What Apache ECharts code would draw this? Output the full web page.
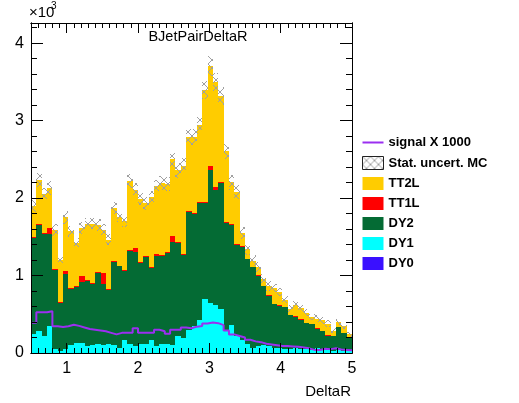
<!DOCTYPE html>
<html>
<head>
<meta charset="utf-8">
<script src="https://cdn.jsdelivr.net/npm/echarts@6/dist/echarts.min.js"></script>
<style>
html, body { margin: 0; padding: 0; background: #fff; }
#chart { width: 519px; height: 403px; }
</style>
</head>
<body>
<div id="chart"></div>
<script>
// binning of the DeltaR histogram
var binLow = 0.5;
var binWidth = 0.075;
var xTickValues = [1, 2, 3, 4, 5];

// stacked backgrounds, bottom to top
var dy0 = [0, 0, 0, 0, 0, 0, 0, 0, 0, 0,
    0, 0, 0, 0, 0, 0, 0, 0, 0, 0,
    0, 0, 0, 0, 0, 0, 0, 0, 0, 2,
    3, 3, 5, 5, 4, 3, 2, 2, 0, 0,
    0, 0, 0, 0, 0, 0, 0, 0, 0, 0,
    0, 0, 0, 0, 0, 0, 0, 0, 0, 0];
var dy1 = [250, 290, 215, 350, 50, 30, 50, 100, 130, 130,
    90, 100, 110, 100, 110, 100, 70, 170, 110, 90,
    120, 110, 170, 90, 110, 110, 100, 220, 200, 300,
    350, 420, 690, 640, 610, 560, 280, 365, 215, 170,
    110, 65, 85, 105, 85, 65, 70, 55, 50, 60,
    55, 50, 45, 60, 40, 35, 30, 40, 30, 25];
var dy2 = [1232, 1363, 1322, 1187, 1023, 615, 968, 730, 720, 790,
    840, 790, 925, 785, 700, 1081, 1047, 890, 1210, 1220,
    1040, 1135, 925, 1160, 1140, 1180, 1330, 1198, 1067, 1515,
    1440, 1513, 1243, 1722, 1495, 1631, 1395, 1289, 1181, 1204,
    1100, 1040, 915, 755, 655, 565, 540, 540, 440, 410,
    375, 337, 325, 255, 240, 190, 185, 290, 230, 168];
var tt1l = [10, 10, 10, 80, 10, 10, 42, 10, 10, 70,
    10, 10, 10, 154, 10, 10, 10, 10, 10, 45,
    10, 10, 10, 30, 10, 10, 85, 10, 10, 10,
    10, 10, 10, 43, 30, 10, 10, 10, 10, 8,
    8, 6, 6, 6, 5, 5, 5, 4, 4, 4,
    4, 3, 3, 3, 3, 3, 2, 2, 2, 2];
var tt2l = [408, 567, 503, 513, 507, 545, 690, 730, 560, 620,
    730, 770, 610, 551, 640, 679, 633, 630, 890, 755,
    820, 675, 905, 870, 940, 880, 985, 932, 1143, 965,
    990, 997, 1447, 1295, 1355, 1109, 915, 536, 674, 168,
    122, 79, 99, 94, 120, 205, 175, 91, 76, 146,
    146, 130, 92, 127, 137, 152, 73, 68, 83, 45];
// MC statistical uncertainty per bin
var statErr = [80, 90, 85, 85, 75, 65, 80, 75, 70, 75,
    75, 75, 75, 75, 70, 80, 75, 75, 90, 85,
    85, 80, 85, 85, 90, 90, 95, 95, 95, 105,
    105, 110, 115, 125, 115, 115, 100, 95, 90, 80,
    75, 70, 65, 60, 60, 55, 55, 50, 45, 50,
    45, 45, 40, 40, 40, 40, 35, 40, 35, 30];
// signal scaled x1000
var signalX1000 = [390, 525, 525, 540, 345, 335, 345, 365, 350, 330,
    310, 300, 290, 280, 260, 240, 260, 260, 260, 320,
    260, 260, 260, 300, 280, 250, 300, 300, 330, 320,
    340, 350, 380, 395, 385, 360, 290, 240, 220, 200,
    170, 150, 140, 120, 110, 100, 90, 90, 85, 80,
    70, 60, 40, 40, 55, 50, 60, 45, 40, 35];

var nBins = dy1.length;
var FONT = 'Liberation Sans';
var YMAX = 4260;
var SIGNAL_COLOR = '#9b2ff0';

// cross hatch like the ROOT fill style
var hatch = document.createElement('canvas');
hatch.width = 8;
hatch.height = 8;
var hctx = hatch.getContext('2d');
hctx.strokeStyle = '#a0a0a0';
hctx.lineWidth = 1;
hctx.beginPath();
hctx.moveTo(0, 0); hctx.lineTo(8, 8);
hctx.moveTo(8, 0); hctx.lineTo(0, 8);
hctx.stroke();
var hatchFill = { image: hatch, repeat: 'repeat' };

// build [edgeLo, edgeHi, bottom, top] rows for every stacked component
var components = [
    { name: 'DY0', data: dy0, color: '#3a10ff' },
    { name: 'DY1', data: dy1, color: '#00ffff' },
    { name: 'DY2', data: dy2, color: '#046b34' },
    { name: 'TT1L', data: tt1l, color: '#ff0000' },
    { name: 'TT2L', data: tt2l, color: '#ffcc00' }
];
var running = [];
for (var i = 0; i < nBins; i++) running.push(0);
components.forEach(function (c) {
    c.rows = [];
    for (var i = 0; i < nBins; i++) {
        var lo = running[i];
        running[i] += c.data[i];
        c.rows.push([binLow + i * binWidth, binLow + (i + 1) * binWidth, lo, running[i]]);
    }
});
var uncRows = [];
for (var i = 0; i < nBins; i++) {
    uncRows.push([binLow + i * binWidth, binLow + (i + 1) * binWidth,
        running[i] - statErr[i], running[i] + statErr[i]]);
}
// step line through the bin edges
var signalPts = [];
for (var i = 0; i < nBins; i++) {
    signalPts.push([binLow + i * binWidth, signalX1000[i]]);
}
signalPts.push([binLow + nBins * binWidth, signalX1000[nBins - 1]]);

function histSeries(name, rows, fill, z) {
    return {
        name: name, type: 'custom', xAxisIndex: 1, yAxisIndex: 0, z: z,
        data: rows, encode: { x: [0, 1], y: [2, 3] },
        itemStyle: { color: fill },
        silent: true,
        renderItem: function (params, api) {
            var p0 = api.coord([api.value(0), api.value(2)]);
            var p1 = api.coord([api.value(1), api.value(3)]);
            var x0 = Math.round(p0[0]), x1 = Math.round(p1[0]);
            var yb = Math.round(p0[1]), yt = Math.round(p1[1]);
            if (yb - yt <= 0) return null;
            return {
                type: 'rect',
                shape: { x: x0, y: yt, width: x1 - x0, height: yb - yt },
                style: { fill: fill }
            };
        }
    };
}

function xValueAxis(pos, interval, tickLen, labels) {
    var ax = {
        type: 'value', position: pos, min: binLow, max: 5, z: 10,
        splitLine: { show: false },
        axisLine: { show: true, onZero: false, lineStyle: { color: '#000', width: 1 } },
        axisTick: { inside: true, length: tickLen, lineStyle: { color: '#000' } },
        axisLabel: { show: false }
    };
    if (interval) {
        ax.interval = interval;
    } else {
        ax.axisTick.customValues = xTickValues;
        ax.axisLabel = {
            show: labels, customValues: xTickValues, margin: 8,
            color: '#000', fontSize: 16, fontFamily: FONT
        };
    }
    return ax;
}

function yAxisDef(pos, interval, tickLen, labels) {
    return {
        type: 'value', position: pos, min: 0, max: YMAX, interval: interval, z: 10,
        splitLine: { show: false },
        axisLine: { show: true, lineStyle: { color: '#000', width: 1 } },
        axisTick: { inside: true, length: tickLen, lineStyle: { color: '#000' } },
        axisLabel: {
            show: labels, margin: 7, color: '#000', fontSize: 16, fontFamily: FONT,
            formatter: function (v) { return v % 1000 === 0 ? String(v / 1000) : ''; }
        }
    };
}

var chart = echarts.init(document.getElementById('chart'), null, { renderer: 'canvas' });

var series = components.map(function (c) {
    return histSeries(c.name, c.rows, c.color, 2);
});
series.push(histSeries('Stat. uncert. MC', uncRows, hatchFill, 3));
series.push({
    name: 'signal X 1000', type: 'line', xAxisIndex: 1, yAxisIndex: 0,
    data: signalPts, step: 'end', symbol: 'none', showSymbol: false, z: 5,
    itemStyle: { color: SIGNAL_COLOR },
    lineStyle: { color: SIGNAL_COLOR, width: 2 }
});

var option = {
    animation: false,
    backgroundColor: '#fff',
    grid: { left: 31, right: 167, top: 23, bottom: 50 },
    xAxis: [
        { type: 'category', data: xTickValues, show: false },
        xValueAxis('bottom', 0.1, 5, false),
        xValueAxis('bottom', null, 10, true),
        xValueAxis('top', 0.1, 5, false),
        xValueAxis('top', null, 10, false)
    ],
    yAxis: [
        yAxisDef('left', 1000, 12, true),
        yAxisDef('left', 200, 6, false),
        yAxisDef('right', 1000, 12, false),
        yAxisDef('right', 200, 6, false)
    ],
    legend: {
        left: 362, top: 136, orient: 'vertical',
        itemWidth: 21, itemHeight: 13, itemGap: 7, padding: 0,
        selectedMode: false,
        textStyle: { color: '#000', fontSize: 13, fontWeight: 'bold', fontFamily: FONT },
        data: [
            { name: 'signal X 1000', icon: 'path://M0,0 L21,0 L21,2 L0,2 Z' },
            { name: 'Stat. uncert. MC', icon: 'rect', itemStyle: { borderColor: '#222', borderWidth: 1 } },
            { name: 'TT2L', icon: 'rect' },
            { name: 'TT1L', icon: 'rect' },
            { name: 'DY2', icon: 'rect' },
            { name: 'DY1', icon: 'rect' },
            { name: 'DY0', icon: 'rect' }
        ]
    },
    graphic: [
        { type: 'text', left: 29, top: 5, style: { text: '×10', fill: '#000', font: '15px "Liberation Sans"' } },
        { type: 'text', left: 51, top: 1, style: { text: '3', fill: '#000', font: '10px "Liberation Sans"' } },
        { type: 'text', x: 198, y: 37, style: { text: 'BJetPairDeltaR', fill: '#000', font: '14.5px "Liberation Sans"', align: 'center', verticalAlign: 'middle' } },
        { type: 'text', x: 351, y: 392, style: { text: 'DeltaR', fill: '#000', font: '15px "Liberation Sans"', align: 'right', verticalAlign: 'middle' } }
    ],
    series: series
};

chart.setOption(option);
</script>
</body>
</html>
